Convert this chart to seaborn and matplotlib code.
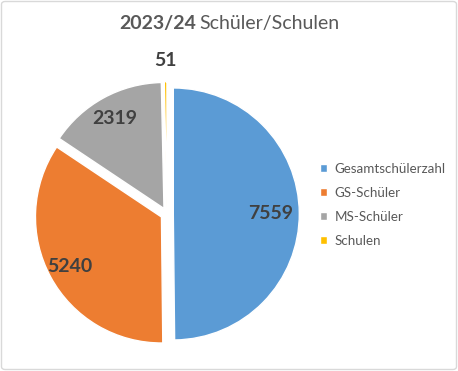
import numpy as np
import matplotlib
matplotlib.use("Agg")
import matplotlib.pyplot as plt
from matplotlib.patches import FancyBboxPatch
import seaborn as sns

sns.set_theme(style="white")
plt.rcParams['font.family'] = ['Lato', 'DejaVu Sans']

# data
categories = ["Gesamtschülerzahl", "GS-Schüler", "MS-Schüler", "Schulen"]
values = [7559, 5240, 2319, 51]
colors = ["#5B9BD5", "#ED7D31", "#A5A5A5", "#FFC000"]
label_dist = [0.77, 0.83, 0.81, 1.17]

W, H = 458, 371
fig = plt.figure(figsize=(W / 100, H / 100), dpi=100)

# pie axes: centre ~ (167, 214) px, radius ~126 px
R = 126
cx, cy = 167, H - 214
lim = 1.4
ax = fig.add_axes([(cx - lim * R) / W, (cy - lim * R) / H, 2 * lim * R / W, 2 * lim * R / H])
wedges, _ = ax.pie(values, colors=colors, startangle=90, counterclock=False,
                   explode=[0.05] * 4, wedgeprops=dict(edgecolor="white", linewidth=1))
ax.set_xlim(-lim, lim)
ax.set_ylim(-lim, lim)
ax.set_aspect("auto")
ax.axis("off")

# value labels
for w, v, d in zip(wedges, values, label_dist):
    ang = np.deg2rad((w.theta1 + w.theta2) / 2)
    x0, y0 = w.center
    ax.text(x0 + d * np.cos(ang), y0 + d * np.sin(ang), str(v), ha="center", va="center",
            fontsize=14, fontweight="bold", color="#404040")

# title
fig.text(196 / W, 1 - 24 / H, "2023/24", ha="right", va="center", fontsize=14,
         fontweight="bold", color="#595959")
fig.text(199 / W, 1 - 24 / H, "Schüler/Schulen", ha="left", va="center", fontsize=14,
         color="#595959")

# legend
fig.legend(wedges, categories, loc="upper left", bbox_to_anchor=(313 / W, 1 - 156 / H),
           frameon=False, fontsize=9.6, handlelength=0.52, handleheight=0.52,
           handletextpad=0.6, labelspacing=0.9, labelcolor="#595959", borderpad=0)

# chart border
fig.patches.append(FancyBboxPatch((1.5 / W, 1.5 / H), (W - 3) / W, (H - 3) / H,
                                  boxstyle="round,pad=0,rounding_size=0.008",
                                  transform=fig.transFigure, facecolor="none",
                                  edgecolor="#D9D9D9", linewidth=1))

fig.savefig("out.png", dpi=100)
